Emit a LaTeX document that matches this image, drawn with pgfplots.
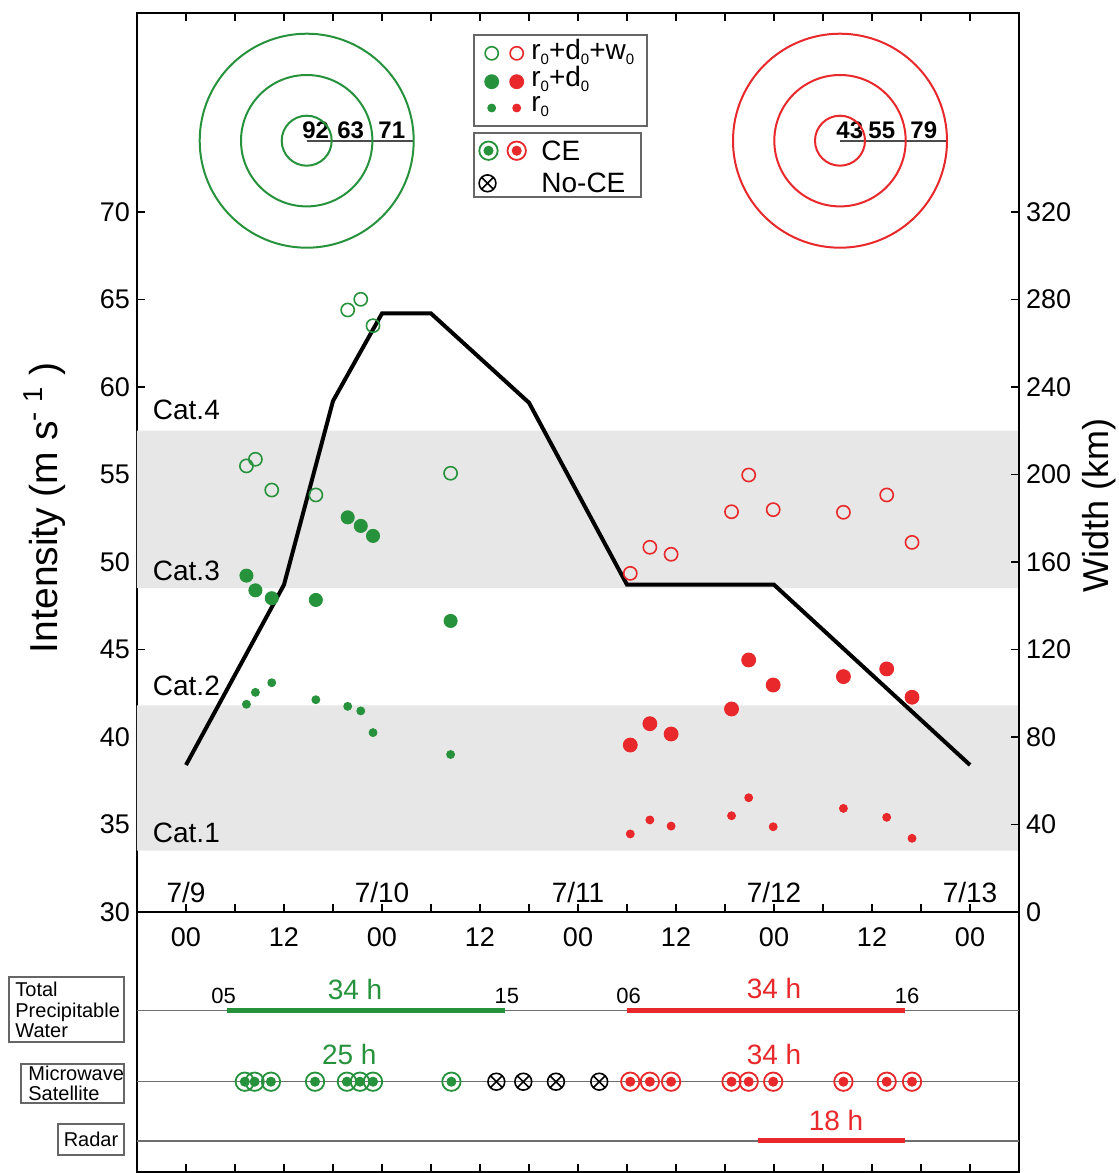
\documentclass[border=0pt]{standalone}
\usepackage{pgfplots}
\pgfplotsset{compat=1.18}
\usepackage{fontspec}
\setmainfont{Liberation Sans}
\definecolor{cgreen}{RGB}{38,146,60}
\definecolor{cred}{RGB}{232,40,42}
\definecolor{cband}{RGB}{232,231,231}
\definecolor{cline}{RGB}{110,110,110}
\newcommand{\fs}[1]{\fontsize{#1}{#1}\selectfont}
\newcommand{\sub}{\raisebox{-0.35ex}{\fs{7.5}0}}

\begin{document}
\begin{tikzpicture}
\useasboundingbox (0,0) rectangle (559.5pt,586.5pt);

% ---------------- main (upper) axis ----------------
\begin{axis}[
  at={(68.5pt,130.5pt)}, anchor=south west, scale only axis,
  width=441pt, height=449.5pt,
  xmin=-6, xmax=102, ymin=30, ymax=81.37,
  xtick={0,6,...,96},
  xticklabels={00,,12,,00,,12,,00,,12,,00,,12,,00},
  xtick pos=both, ytick={30,35,...,70}, ytick pos=left,
  tick align=inside, major tick length=4pt,
  tick style={black, line width=0.6pt},
  axis line style={black, line width=0.8pt},
  ticklabel style={font=\fs{13.5}},
  xticklabel style={yshift=-4.5pt},
  /pgf/number format/assume math mode=true,
  clip=false,
]
% category bands
\addplot[fill=cband, draw=none] coordinates {(-6,33.5) (102,33.5) (102,41.8) (-6,41.8) (-6,33.5)};
\addplot[fill=cband, draw=none] coordinates {(-6,48.5) (102,48.5) (102,57.5) (-6,57.5) (-6,48.5)};
\node[anchor=west, font=\fs{14}, inner sep=0pt] at (axis cs:-4.1,58.7) {Cat.4};
\node[anchor=west, font=\fs{14}, inner sep=0pt] at (axis cs:-4.1,49.5) {Cat.3};
\node[anchor=west, font=\fs{14}, inner sep=0pt] at (axis cs:-4.1,42.9) {Cat.2};
\node[anchor=west, font=\fs{14}, inner sep=0pt] at (axis cs:-4.1,34.5) {Cat.1};
% date labels
\node[font=\fs{14}] at (axis cs:0,31.1) {7/9};
\node[font=\fs{14}] at (axis cs:24,31.1) {7/10};
\node[font=\fs{14}] at (axis cs:48,31.1) {7/11};
\node[font=\fs{14}] at (axis cs:72,31.1) {7/12};
\node[font=\fs{14}] at (axis cs:96,31.1) {7/13};
% intensity line
\addplot[black, line width=2pt, line join=miter] coordinates {
 (0,38.4) (12,48.7) (18,59.2) (24,64.2) (30,64.2) (42,59.1) (54,48.7) (72,48.7) (96,38.4)};
% green r0+d0+w0
\addplot[only marks, mark=o, mark size=3.3pt, mark options={cgreen, line width=0.8pt}] coordinates {
 (7.4,55.49) (8.5,55.87) (10.5,54.11) (15.9,53.83) (19.8,64.4) (21.4,65.01) (22.9,63.5) (32.4,55.07)};
% green r0+d0
\addplot[only marks, mark=*, mark size=3.3pt, mark options={cgreen, draw=cgreen}] coordinates {
 (7.4,49.22) (8.5,48.38) (10.5,47.93) (15.9,47.83) (19.8,52.55) (21.4,52.06) (22.9,51.49) (32.4,46.63)};
% green r0
\addplot[only marks, mark=*, mark size=2pt, mark options={cgreen, draw=cgreen}] coordinates {
 (7.4,41.87) (8.5,42.55) (10.5,43.1) (15.9,42.13) (19.8,41.75) (21.4,41.49) (22.9,40.25) (32.4,39.0)};
% red r0+d0+w0
\addplot[only marks, mark=o, mark size=3.3pt, mark options={cred, line width=0.8pt}] coordinates {
 (54.4,49.35) (56.8,50.84) (59.4,50.44) (66.8,52.87) (68.9,54.97) (71.9,52.99) (80.5,52.84) (85.8,53.83) (88.9,51.12)};
% red r0+d0
\addplot[only marks, mark=*, mark size=3.5pt, mark options={cred, draw=cred}] coordinates {
 (54.4,39.54) (56.8,40.76) (59.4,40.17) (66.8,41.6) (68.9,44.4) (71.9,42.97) (80.5,43.45) (85.8,43.89) (88.9,42.27)};
% red r0
\addplot[only marks, mark=*, mark size=2pt, mark options={cred, draw=cred}] coordinates {
 (54.4,34.46) (56.8,35.26) (59.4,34.91) (66.8,35.5) (68.9,36.53) (71.9,34.87) (80.5,35.92) (85.8,35.41) (88.9,34.21)};
\end{axis}

% ---------------- right axis (width) ----------------
\begin{axis}[
  at={(68.5pt,130.5pt)}, anchor=south west, scale only axis,
  width=441pt, height=449.5pt,
  xmin=-6, xmax=102, ymin=0, ymax=410.96,
  axis y line*=right, axis x line=none,
  ytick={0,40,...,320},
  tick align=inside, major tick length=4pt,
  tick style={black, line width=0.6pt},
  axis line style={black, line width=0.8pt},
  ticklabel style={font=\fs{13.5}},
  /pgf/number format/assume math mode=true,
]
\end{axis}

% ---------------- lower panel ----------------
\begin{axis}[
  at={(68.5pt,0.5pt)}, anchor=south west, scale only axis,
  width=441pt, height=130pt,
  xmin=-6, xmax=102, ymin=0, ymax=260,
  xtick={0,6,...,96}, xticklabels={}, xtick pos=bottom,
  ytick=\empty,
  tick align=inside, major tick length=4pt,
  tick style={black, line width=0.6pt},
  axis line style={black, line width=0.8pt},
  clip=false,
]
\addplot[cline, line width=0.7pt] coordinates {(-6,161.3) (102,161.3)};
\addplot[cline, line width=0.7pt] coordinates {(-6,90.3) (102,90.3)};
\addplot[cline, line width=0.7pt] coordinates {(-6,31) (102,31)};
\addplot[cgreen, line width=2.5pt] coordinates {(5,161.3) (39,161.3)};
\addplot[cred, line width=2.5pt] coordinates {(54,161.3) (88,161.3)};
\addplot[cred, line width=2.5pt] coordinates {(70,31) (88,31)};
% microwave CE markers
\addplot[only marks, mark=o, mark size=4.6pt, mark options={cgreen, line width=0.9pt}] coordinates {
 (7.2,90.3) (8.4,90.3) (10.4,90.3) (15.8,90.3) (19.7,90.3) (21.3,90.3) (22.9,90.3) (32.5,90.3)};
\addplot[only marks, mark=*, mark size=2.3pt, mark options={cgreen, draw=cgreen}] coordinates {
 (7.2,90.3) (8.4,90.3) (10.4,90.3) (15.8,90.3) (19.7,90.3) (21.3,90.3) (22.9,90.3) (32.5,90.3)};
\addplot[only marks, mark=o, mark size=4.6pt, mark options={cred, line width=0.9pt}] coordinates {
 (54.4,90.3) (56.8,90.3) (59.4,90.3) (66.8,90.3) (68.9,90.3) (71.9,90.3) (80.5,90.3) (85.8,90.3) (88.9,90.3)};
\addplot[only marks, mark=*, mark size=2.3pt, mark options={cred, draw=cred}] coordinates {
 (54.4,90.3) (56.8,90.3) (59.4,90.3) (66.8,90.3) (68.9,90.3) (71.9,90.3) (80.5,90.3) (85.8,90.3) (88.9,90.3)};
\addplot[only marks, mark=otimes, mark size=4.2pt, mark options={black, line width=0.8pt, fill=white}] coordinates {
 (38.0,90.3) (41.3,90.3) (45.3,90.3) (50.6,90.3)};
% texts
\node[cgreen, font=\fs{14}] at (axis cs:20.7,183) {34 h};
\node[cred, font=\fs{14}] at (axis cs:72,184) {34 h};
\node[cgreen, font=\fs{14}] at (axis cs:20,118) {25 h};
\node[cred, font=\fs{14}] at (axis cs:72,118) {34 h};
\node[cred, font=\fs{14}] at (axis cs:79.6,52) {18 h};
\node[font=\fs{11}] at (axis cs:4.6,176) {05};
\node[font=\fs{11}] at (axis cs:39.3,176) {15};
\node[font=\fs{11}] at (axis cs:54.2,176) {06};
\node[font=\fs{11}] at (axis cs:88.3,176) {16};
\end{axis}

% ---------------- overlay in pixel units (annotations) ----------------
\begin{axis}[
  at={(0pt,0pt)}, anchor=south west, scale only axis,
  width=559.5pt, height=586.5pt,
  xmin=0, xmax=1119, ymin=0, ymax=1173, y dir=reverse,
  hide axis, clip=false,
]
% concentric circle diagrams
\addplot[only marks, mark=o, mark size=12.5pt, mark options={cgreen, line width=1pt}] coordinates {(306.7,140.7)};
\addplot[only marks, mark=o, mark size=32.85pt, mark options={cgreen, line width=1pt}] coordinates {(306.7,140.7)};
\addplot[only marks, mark=o, mark size=53.5pt, mark options={cgreen, line width=1pt}] coordinates {(306.7,140.7)};
\addplot[black!70, line width=0.8pt] coordinates {(306.7,140.7) (413,140.7)};
\node[anchor=base west, font=\bfseries\fs{12}, inner sep=0pt] at (axis cs:302,138.5) {92};
\node[anchor=base west, font=\bfseries\fs{12}, inner sep=0pt] at (axis cs:337,138.5) {63};
\node[anchor=base west, font=\bfseries\fs{12}, inner sep=0pt] at (axis cs:378,138.5) {71};
\addplot[only marks, mark=o, mark size=12.5pt, mark options={cred, line width=1pt}] coordinates {(840,140.7)};
\addplot[only marks, mark=o, mark size=32.85pt, mark options={cred, line width=1pt}] coordinates {(840,140.7)};
\addplot[only marks, mark=o, mark size=53.5pt, mark options={cred, line width=1pt}] coordinates {(840,140.7)};
\addplot[black!70, line width=0.8pt] coordinates {(840,140.7) (946,140.7)};
\node[anchor=base west, font=\bfseries\fs{12}, inner sep=0pt] at (axis cs:836,138.5) {43};
\node[anchor=base west, font=\bfseries\fs{12}, inner sep=0pt] at (axis cs:868,138.5) {55};
\node[anchor=base west, font=\bfseries\fs{12}, inner sep=0pt] at (axis cs:910,138.5) {79};
% legend boxes
\draw[black!60, line width=0.7pt] (axis cs:474,35) rectangle (axis cs:647,126);
\draw[black!60, line width=0.7pt] (axis cs:474,133) rectangle (axis cs:641,197);
\addplot[only marks, mark=o, mark size=3.3pt, mark options={cgreen, line width=0.8pt}] coordinates {(491.7,53.3)};
\addplot[only marks, mark=o, mark size=3.3pt, mark options={cred, line width=0.8pt}] coordinates {(516.7,53.3)};
\addplot[only marks, mark=*, mark size=3.5pt, mark options={cgreen, draw=cgreen}] coordinates {(491.7,81.7)};
\addplot[only marks, mark=*, mark size=3.5pt, mark options={cred, draw=cred}] coordinates {(516.7,81.7)};
\addplot[only marks, mark=*, mark size=2pt, mark options={cgreen, draw=cgreen}] coordinates {(491.7,108)};
\addplot[only marks, mark=*, mark size=2pt, mark options={cred, draw=cred}] coordinates {(516.7,108)};
\node[anchor=base west, font=\fs{14}, inner sep=0pt] at (axis cs:531,59) {r\sub+d\sub+w\sub};
\node[anchor=base west, font=\fs{14}, inner sep=0pt] at (axis cs:531,86) {r\sub+d\sub};
\node[anchor=base west, font=\fs{14}, inner sep=0pt] at (axis cs:531,111) {r\sub};
\addplot[only marks, mark=o, mark size=4.6pt, mark options={cgreen, line width=0.9pt}] coordinates {(488.5,150.7)};
\addplot[only marks, mark=*, mark size=2.3pt, mark options={cgreen, draw=cgreen}] coordinates {(488.5,150.7)};
\addplot[only marks, mark=o, mark size=4.6pt, mark options={cred, line width=0.9pt}] coordinates {(516.7,150.7)};
\addplot[only marks, mark=*, mark size=2.3pt, mark options={cred, draw=cred}] coordinates {(516.7,150.7)};
\addplot[only marks, mark=otimes, mark size=4.2pt, mark options={black, line width=0.8pt}] coordinates {(487.5,183.3)};
\node[anchor=west, font=\fs{14}, inner sep=0pt] at (axis cs:541,151) {CE};
\node[anchor=west, font=\fs{14}, inner sep=0pt] at (axis cs:541,183) {No-CE};
% axis titles
\node[rotate=90, font=\fs{19.5}] at (axis cs:45,508) {Intensity (m s\textsuperscript{-\,\,1} )};
\node[rotate=90, font=\fs{18}] at (axis cs:1099,505) {Width (km)};
% lower panel row labels
\draw[black!60, line width=0.7pt] (axis cs:9,977) rectangle (axis cs:124,1042);
\node[anchor=west, align=left, font=\fontsize{10}{10.3}\selectfont, inner sep=0pt] at (axis cs:15,1010) {Total\\Precipitable\\Water};
\draw[black!60, line width=0.7pt] (axis cs:21,1064) rectangle (axis cs:124,1103);
\node[anchor=west, align=left, font=\fontsize{10}{9.8}\selectfont, inner sep=0pt] at (axis cs:28,1083.5) {Microwave\\Satellite};
\draw[black!60, line width=0.7pt] (axis cs:58,1124) rectangle (axis cs:124,1155);
\node[font=\fs{10}, inner sep=0pt] at (axis cs:91,1139.5) {Radar};
\end{axis}
\end{tikzpicture}
\end{document}
